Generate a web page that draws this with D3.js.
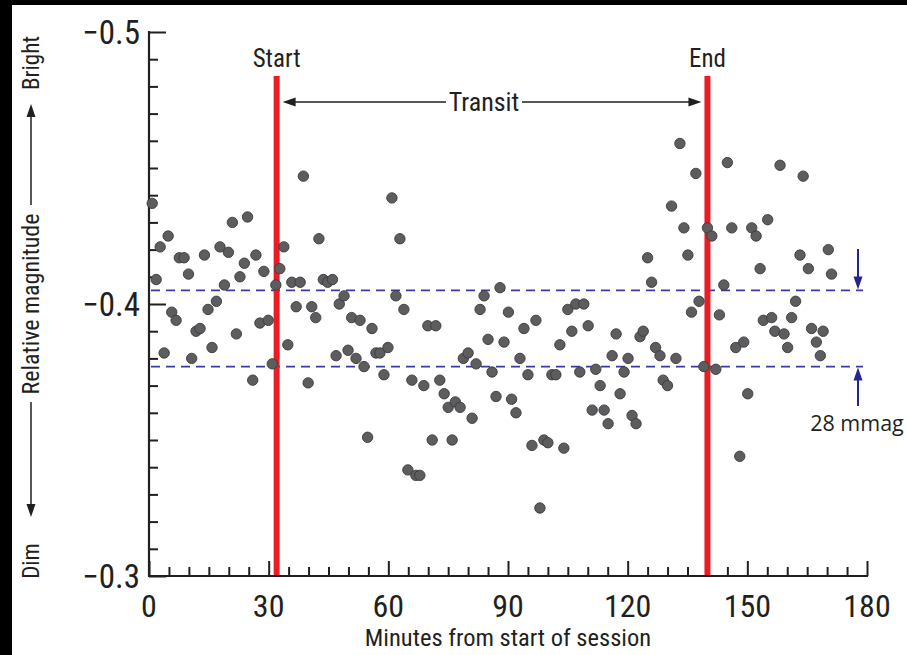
<!DOCTYPE html>
<html>
<head>
<meta charset="utf-8">
<script src="https://cdn.jsdelivr.net/npm/d3@7/dist/d3.min.js"></script>
<style>
  html, body { margin: 0; padding: 0; background: #000; }
  svg { display: block; }
</style>
</head>
<body>
<svg id="chart" width="907" height="655"></svg>
<script>
// ---------- data ----------
const times = [0.8,1.8,2.8,3.8,4.8,5.7,6.8,7.6,8.8,9.9,10.7,11.8,12.8,13.9,14.8,15.8,16.9,17.8,18.9,19.9,
  20.9,21.9,22.8,23.9,24.7,26.0,26.8,27.8,28.8,29.9,30.9,31.8,32.8,33.8,34.8,35.8,36.9,37.9,38.7,39.9,
  40.8,41.8,42.6,43.7,44.8,46.0,46.9,47.7,48.9,49.9,50.8,51.9,52.9,53.9,54.8,55.9,56.9,57.9,58.9,59.9,
  60.9,61.9,62.9,63.9,64.9,65.9,66.9,67.9,68.9,69.9,71.0,71.9,72.9,74.0,75.0,76.0,76.8,78.0,78.8,80.0,
  81.0,82.0,83.0,84.0,85.0,86.0,87.0,88.0,89.0,90.1,90.9,92.0,93.0,94.0,95.0,96.0,97.0,98.0,99.0,100.0,
  101.0,102.0,103.0,104.0,105.0,106.0,107.0,108.0,109.0,110.1,111.1,112.0,113.1,114.1,115.1,116.1,117.1,118.1,119.1,120.1,
  121.1,122.1,123.1,123.9,125.0,126.0,127.0,128.1,128.9,130.0,131.0,132.1,133.1,134.1,135.1,136.0,137.1,137.9,139.1,140.0,
  141.1,142.1,143.0,144.1,145.0,146.1,147.1,148.1,149.1,150.1,151.1,152.2,153.2,154.0,155.1,156.1,156.9,158.2,159.2,160.1,
  161.1,162.1,163.2,164.0,165.3,166.1,167.3,168.3,169.0,170.3,171.1];
const magnitudes = [-0.437,-0.409,-0.421,-0.382,-0.425,-0.397,-0.394,-0.417,-0.417,-0.411,-0.380,-0.390,-0.391,-0.418,-0.398,-0.384,-0.401,-0.421,-0.407,-0.419,
  -0.430,-0.389,-0.410,-0.415,-0.432,-0.372,-0.418,-0.393,-0.412,-0.394,-0.378,-0.407,-0.413,-0.421,-0.385,-0.408,-0.399,-0.408,-0.447,-0.371,
  -0.399,-0.395,-0.424,-0.409,-0.408,-0.409,-0.381,-0.400,-0.403,-0.383,-0.395,-0.380,-0.394,-0.377,-0.351,-0.391,-0.382,-0.382,-0.374,-0.384,
  -0.439,-0.403,-0.424,-0.398,-0.339,-0.372,-0.337,-0.337,-0.370,-0.392,-0.350,-0.392,-0.372,-0.367,-0.362,-0.350,-0.364,-0.362,-0.380,-0.382,
  -0.358,-0.378,-0.398,-0.403,-0.387,-0.375,-0.366,-0.406,-0.386,-0.397,-0.365,-0.360,-0.380,-0.391,-0.374,-0.348,-0.394,-0.325,-0.350,-0.349,
  -0.374,-0.374,-0.385,-0.347,-0.398,-0.390,-0.400,-0.375,-0.400,-0.392,-0.361,-0.376,-0.370,-0.361,-0.356,-0.381,-0.389,-0.367,-0.375,-0.380,
  -0.359,-0.356,-0.388,-0.390,-0.417,-0.408,-0.384,-0.381,-0.372,-0.370,-0.436,-0.380,-0.459,-0.428,-0.418,-0.397,-0.448,-0.401,-0.377,-0.428,
  -0.425,-0.376,-0.396,-0.407,-0.452,-0.428,-0.384,-0.344,-0.386,-0.367,-0.428,-0.425,-0.413,-0.394,-0.431,-0.395,-0.390,-0.451,-0.389,-0.384,
  -0.395,-0.401,-0.418,-0.447,-0.413,-0.391,-0.386,-0.381,-0.390,-0.420,-0.411];
const xTickLabels = [0, 30, 60, 90, 120, 150, 180];
const yTickLabels = [-0.5, -0.4, -0.3];
const transitStart = 32, transitEnd = 140;
const bandTop = -0.405, bandBottom = -0.377;   // 28 mmag depth

// ---------- setup ----------
const FONT_N = "'Liberation Sans Narrow','Roboto Condensed','DejaVu Sans Condensed','Liberation Sans',sans-serif";
const FONT = "'Open Sans','Liberation Sans',sans-serif";
const svg = d3.select("#chart");
svg.append("rect").attr("x", 0).attr("y", 0).attr("width", 907).attr("height", 655).attr("fill", "#000");
svg.append("rect").attr("x", 12).attr("y", 5).attr("width", 895).attr("height", 650).attr("fill", "#fff");

const x = d3.scaleLinear().domain([0, 180]).range([149, 867]);
const y = d3.scaleLinear().domain([-0.5, -0.3]).range([32, 576]);
const axisCol = "#231f20";

// ---------- y axis ----------
const yMinor = d3.range(0, 21).map(i => -0.5 + i * 0.01).filter(v => Math.abs(v * 10 - Math.round(v * 10)) > 1e-6);
const gy = svg.append("g").attr("transform", `translate(${x(0)},0)`);
gy.call(d3.axisRight(y).tickValues(yMinor).tickSize(9).tickFormat(""));
gy.append("g").call(d3.axisRight(y).tickValues(yTickLabels).tickSize(17).tickFormat(""));
gy.selectAll(".domain").remove();
gy.selectAll("line").attr("stroke", axisCol).attr("stroke-width", 2);
svg.append("line").attr("x1", x(0)).attr("x2", x(0)).attr("y1", y(-0.5) - 1).attr("y2", y(-0.3) + 1)
  .attr("stroke", axisCol).attr("stroke-width", 2.2);
svg.selectAll(".ylab").data(yTickLabels).join("text")
  .attr("x", 140).attr("y", d => y(d)).attr("dy", "0.36em")
  .attr("text-anchor", "end").attr("font-family", FONT_N).attr("font-size", 33).attr("fill", axisCol)
  .text(d => "\u2212" + Math.abs(d).toFixed(1));

// ---------- x axis ----------
const xMinor = d3.range(0, 181, 5).filter(v => v % 30 !== 0);
const gx = svg.append("g").attr("transform", `translate(0,${y(-0.3)})`);
gx.call(d3.axisTop(x).tickValues(xMinor).tickSize(9).tickFormat(""));
gx.append("g").call(d3.axisTop(x).tickValues(xTickLabels).tickSize(15).tickFormat(""));
gx.selectAll(".domain").remove();
gx.selectAll("line").attr("stroke", axisCol).attr("stroke-width", 2);
svg.append("line").attr("x1", x(0) - 1).attr("x2", x(180) + 1).attr("y1", y(-0.3)).attr("y2", y(-0.3))
  .attr("stroke", axisCol).attr("stroke-width", 2.2);
svg.selectAll(".xlab").data(xTickLabels).join("text")
  .attr("x", d => x(d)).attr("y", 617)
  .attr("text-anchor", "middle").attr("font-family", FONT_N).attr("font-size", 32).attr("fill", axisCol)
  .text(d => d);

svg.append("text").attr("x", 508).attr("y", 646).attr("text-anchor", "middle")
  .attr("font-family", FONT_N).attr("font-size", 24.5).attr("fill", axisCol)
  .text("Minutes from start of session");

// ---------- y title with arrows ----------
const yt = svg.append("g");
yt.append("text").attr("transform", "translate(39,304) rotate(-90)").attr("text-anchor", "middle")
  .attr("font-family", FONT_N).attr("font-size", 24).attr("fill", axisCol).text("Relative magnitude");
yt.append("text").attr("transform", "translate(39,63) rotate(-90)").attr("text-anchor", "middle")
  .attr("font-family", FONT_N).attr("font-size", 23).attr("fill", axisCol).text("Bright");
yt.append("text").attr("transform", "translate(39,561) rotate(-90)").attr("text-anchor", "middle")
  .attr("font-family", FONT_N).attr("font-size", 23).attr("fill", axisCol).text("Dim");
yt.append("line").attr("x1", 31).attr("x2", 31).attr("y1", 205).attr("y2", 112).attr("stroke", axisCol).attr("stroke-width", 1.5);
yt.append("path").attr("d", "M31,104 L26.5,117 L35.5,117 Z").attr("fill", axisCol);
yt.append("line").attr("x1", 31).attr("x2", 31).attr("y1", 402).attr("y2", 508).attr("stroke", axisCol).attr("stroke-width", 1.5);
yt.append("path").attr("d", "M31,517 L26.5,504 L35.5,504 Z").attr("fill", axisCol);

// ---------- band (dashed) ----------
const bandCol = "#3a3aa6";
svg.selectAll(".band").data([bandTop, bandBottom]).join("line")
  .attr("x1", x(0) + 2).attr("x2", 863)
  .attr("y1", d => y(d)).attr("y2", d => y(d))
  .attr("stroke", bandCol).attr("stroke-width", 1.8).attr("stroke-dasharray", "9,6");

// ---------- transit lines ----------
const red = "#ec1c24";
svg.selectAll(".tline").data([transitStart, transitEnd]).join("line")
  .attr("x1", d => x(d)).attr("x2", d => x(d)).attr("y1", 76).attr("y2", y(-0.3) - 1)
  .attr("stroke", red).attr("stroke-width", 6);
svg.selectAll(".tlab").data([[transitStart, "Start"], [transitEnd, "End"]]).join("text")
  .attr("x", d => x(d[0])).attr("y", 67).attr("text-anchor", "middle")
  .attr("font-family", FONT_N).attr("font-size", 25).attr("fill", axisCol).text(d => d[1]);

// Transit arrow
const ta = svg.append("g");
const xs = x(transitStart) + 6, xe = x(transitEnd) - 6, ty = 102;
ta.append("line").attr("x1", xs + 8).attr("x2", 446).attr("y1", ty).attr("y2", ty).attr("stroke", axisCol).attr("stroke-width", 1.6);
ta.append("line").attr("x1", 522).attr("x2", xe - 8).attr("y1", ty).attr("y2", ty).attr("stroke", axisCol).attr("stroke-width", 1.6);
ta.append("path").attr("d", `M${xs},${ty} L${xs + 13},${ty - 4.5} L${xs + 13},${ty + 4.5} Z`).attr("fill", axisCol);
ta.append("path").attr("d", `M${xe},${ty} L${xe - 13},${ty - 4.5} L${xe - 13},${ty + 4.5} Z`).attr("fill", axisCol);
ta.append("text").attr("x", 484).attr("y", ty).attr("dy", "0.36em").attr("text-anchor", "middle")
  .attr("font-family", FONT_N).attr("font-size", 26).attr("fill", axisCol).text("Transit");

// ---------- depth arrows ----------
const navy = "#25258c";
const ax = 858;
svg.append("line").attr("x1", ax).attr("x2", ax).attr("y1", 249).attr("y2", y(bandTop) - 10).attr("stroke", navy).attr("stroke-width", 2);
svg.append("path").attr("d", `M${ax},${y(bandTop) - 1} L${ax - 4.5},${y(bandTop) - 14} L${ax + 4.5},${y(bandTop) - 14} Z`).attr("fill", navy);
svg.append("line").attr("x1", ax).attr("x2", ax).attr("y1", 406).attr("y2", y(bandBottom) + 10).attr("stroke", navy).attr("stroke-width", 2);
svg.append("path").attr("d", `M${ax},${y(bandBottom) + 1} L${ax - 4.5},${y(bandBottom) + 14} L${ax + 4.5},${y(bandBottom) + 14} Z`).attr("fill", navy);
svg.append("text").attr("x", 857).attr("y", 431).attr("text-anchor", "middle")
  .attr("font-family", FONT).attr("font-size", 21.5).attr("fill", axisCol).text("28 mmag");

// ---------- points ----------
const pts = times.map((t, i) => ({ t, m: magnitudes[i] }));
svg.append("g").selectAll("circle").data(pts).join("circle")
  .attr("cx", d => x(d.t)).attr("cy", d => y(d.m)).attr("r", 5.2)
  .attr("fill", "#5d5d5f").attr("stroke", "#3b3b3d").attr("stroke-width", 0.9);
</script>
</body>
</html>
